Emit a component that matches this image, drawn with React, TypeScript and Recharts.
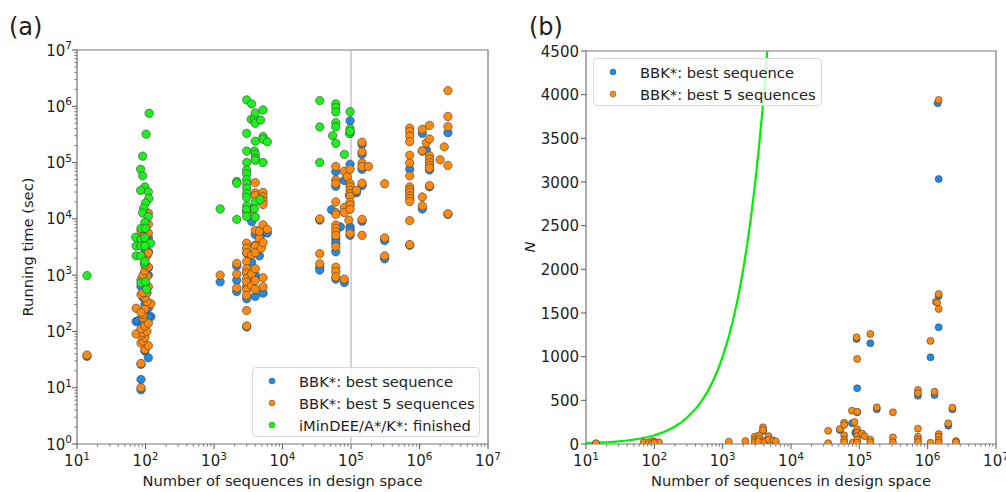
import React from 'react';
import { ScatterChart, Scatter, XAxis, YAxis, ReferenceLine, ReferenceArea, Legend } from 'recharts';

const FONT = '"DejaVu Sans", sans-serif';
const BLUE = '#1f8ae8';
const ORANGE = '#ff8a0d';
const GREEN = '#1ef01e';
const GREEN_LINE = '#00ee00';
const EDGE = '#3c3c3c';
const SPINE = '#777777';
const TEXT = '#1e1e1e';

// ---- ticks ----
const xMajorTicks = [10, 100, 1000, 10000, 100000, 1000000, 10000000];
const xExponents = ['1', '2', '3', '4', '5', '6', '7'];
const yMajorTicksA = [1, 10, 100, 1000, 10000, 100000, 1000000, 10000000];
const yExponentsA = ['0', '1', '2', '3', '4', '5', '6', '7'];
const yTicksB = [0, 500, 1000, 1500, 2000, 2500, 3000, 3500, 4000, 4500];
const minorMultipliers = [2, 3, 4, 5, 6, 7, 8, 9];

const withMinors = (majors: number[]) => {
  const out: number[] = [];
  majors.forEach((m, i) => {
    out.push(m);
    if (i < majors.length - 1) minorMultipliers.forEach((k) => out.push(m * k));
  });
  return out;
};
const xTicks = withMinors(xMajorTicks);
const yTicksA = withMinors(yMajorTicksA);

// ---- panel (a): running time (sec) vs number of sequences ----
const bestSeqRuntime: [number, number][] = [
  [14, 36],
  [86, 9.2], [86, 14], [86, 26], [110, 34], [98, 45], [86, 100], [73, 150], [78, 155], [92, 145],
  [120, 182], [100, 230], [110, 260], [98, 300], [86, 630], [110, 1000], [110, 1350], [110, 2600],
  [110, 4600], [98, 3000], [110, 180], [104, 480], [92, 400],
  [1230, 760], [2150, 1450], [2150, 810], [2150, 510], [3000, 2450], [3000, 1100], [3000, 620],
  [3000, 380], [3000, 120], [3000, 13500], [3550, 9000], [3550, 15000], [3550, 1700], [3550, 700],
  [4000, 1000], [4000, 420], [4000, 3400], [4000, 5300], [4600, 2200], [5200, 6800], [5200, 5600],
  [5200, 480], [6000, 5600],
  [35000, 9500], [35000, 1400], [35000, 1230], [52000, 14500], [60000, 69000], [60000, 38000],
  [60000, 4400], [60000, 2600], [60000, 850], [60000, 3700], [70000, 7200], [80000, 48000],
  [80000, 740], [95000, 26000], [97000, 93000], [97000, 550000], [97000, 330000], [97000, 7200],
  [97000, 6300], [97000, 5100], [120000, 29000], [145000, 210000], [145000, 140000], [145000, 76000],
  [145000, 39000], [145000, 9100], [310000, 4100], [310000, 1950],
  [720000, 76000], [720000, 3400], [1100000, 330000], [1100000, 160000], [1100000, 15000],
  [1260000, 166000], [1400000, 74000], [1400000, 37000], [2600000, 340000], [2600000, 12000],
];

const best5Runtime: [number, number][] = [
  [14, 38],
  [86, 10], [86, 27], [98, 48], [110, 56], [86, 62], [92, 68], [98, 78], [86, 85], [73, 90], [92, 95],
  [105, 100], [86, 112], [98, 125], [110, 140], [92, 175], [92, 200], [73, 258], [110, 305], [120, 310],
  [98, 250], [86, 215], [105, 340], [98, 400], [86, 450], [105, 490], [92, 490], [110, 620], [98, 720],
  [86, 830], [105, 950], [92, 1000], [98, 1200], [110, 1400], [105, 2200], [110, 2500], [98, 1500],
  [110, 5600], [86, 6100], [98, 7000], [110, 8000], [92, 4800], [110, 12700],
  [1230, 1000], [2150, 1620], [2150, 1040], [2150, 590], [3000, 1750], [3000, 1300], [3000, 1080],
  [3000, 880], [3000, 750], [3000, 550], [3000, 440], [3000, 235], [3000, 125], [3000, 3700],
  [3000, 3000], [3000, 2500], [3550, 2300], [3550, 13500], [3550, 1050], [3550, 650], [4000, 44000],
  [4000, 29000], [4000, 26000], [4000, 6300], [4000, 3300], [4000, 2500], [4000, 1300], [4000, 800],
  [4000, 560], [4600, 4500], [4600, 6000], [4900, 3000], [5200, 29500], [5200, 24500], [5200, 21000],
  [5200, 18000], [5200, 7800], [5200, 3800], [5200, 620], [5200, 900], [6000, 6500], [3000, 13500],
  [35000, 10000], [35000, 2400], [35000, 1600], [60000, 85000], [60000, 49000], [60000, 43000],
  [60000, 20000], [60000, 13000], [60000, 12000], [60000, 7800], [60000, 6800], [60000, 5900],
  [60000, 5100], [60000, 3200], [60000, 1380], [60000, 1150], [60000, 930], [80000, 70000],
  [80000, 16000], [80000, 13000], [80000, 850], [88000, 56000], [97000, 76000], [97000, 42000],
  [97000, 37000], [97000, 32000], [97000, 28000], [97000, 25000], [97000, 19500], [97000, 17500],
  [97000, 14800], [93000, 9500], [97000, 5500], [120000, 32000], [145000, 230000], [145000, 155000],
  [145000, 98000], [145000, 85000], [145000, 43000], [145000, 9800], [145000, 5100], [180000, 85000],
  [310000, 42000], [310000, 4600], [310000, 2200],
  [720000, 410000], [720000, 355000], [720000, 295000], [720000, 235000], [720000, 135000],
  [720000, 98000], [720000, 58000], [720000, 37000], [720000, 33000], [720000, 29500], [720000, 25700],
  [720000, 23000], [720000, 20400], [720000, 9300], [720000, 3500], [1100000, 390000],
  [1100000, 162000], [1100000, 24500], [1100000, 17000], [1260000, 224000], [1400000, 457000],
  [1400000, 263000], [1400000, 132000], [1400000, 115000], [1400000, 100000], [1400000, 89000],
  [1400000, 80000], [1400000, 39000], [2000000, 112000], [2300000, 190000], [2600000, 1900000],
  [2600000, 660000], [2600000, 436000], [2600000, 89000], [2600000, 12300],
];

const finishedRuntime: [number, number][] = [
  [14, 980],
  [113, 750000], [102, 320000], [91, 130000], [85, 76000], [91, 58000], [98, 37000], [85, 32000],
  [110, 30000], [112, 23000], [100, 19000], [94, 15500], [91, 12700], [110, 11000], [98, 8600],
  [86, 6800], [100, 6800], [72, 4700], [86, 4300], [98, 4600], [119, 3700], [73, 3300], [86, 3300],
  [98, 3300], [73, 2200], [86, 2200], [96, 1600], [98, 1750], [86, 730], [100, 760], [104, 560],
  [1230, 15000], [2150, 46000], [2150, 43000], [2150, 9800],
  [3000, 1300000], [3000, 330000], [3000, 160000], [3000, 100000], [3000, 74000], [3000, 63000],
  [3000, 50000], [3000, 42000], [3000, 35000], [3000, 28000], [3000, 24000], [3000, 17000],
  [3000, 14500], [3000, 11000],
  [3550, 1100000], [3500, 590000], [3900, 590000], [4000, 760000], [4000, 500000], [5200, 860000],
  [4800, 570000], [5200, 290000], [5200, 260000], [4000, 240000], [6000, 235000], [3900, 160000],
  [4000, 140000], [4000, 120000], [4000, 110000], [5200, 100000], [4000, 20000], [4700, 22000],
  [3900, 15000], [4000, 10700],
  [35000, 1260000], [35000, 430000], [35000, 100000], [60000, 1100000], [60000, 950000],
  [60000, 790000], [60000, 510000], [60000, 430000], [54000, 300000], [60000, 220000],
  [80000, 140000], [97000, 800000], [97000, 400000], [95000, 330000], [97000, 360000],
];

// ---- panel (b): N vs number of sequences ----
const bestSeqN: [number, number][] = [
  [14, 7], [86, 15], [98, 20], [3900, 150], [52000, 160], [78000, 237], [87000, 130],
  [93000, 638], [93000, 363], [91000, 1203], [145000, 1153], [180000, 397], [720000, 553],
  [1100000, 993], [1260000, 561], [1400000, 3902], [1450000, 3035], [1450000, 1695],
  [1450000, 1336], [2000000, 210], [2300000, 397],
];

const best5N: [number, number][] = [
  [14, 8],
  [70, 19], [83, 19], [95, 34], [105, 19], [117, 19], [92, 8], [100, 12],
  [1230, 27], [2150, 34],
  [2950, 84], [2950, 46], [2950, 19], [3400, 100], [3400, 60], [3900, 191], [3900, 160],
  [4000, 40], [4000, 20], [4700, 90], [4700, 50], [5500, 40], [6000, 30], [3300, 30],
  [35000, 152], [35000, 10], [52000, 172], [60000, 244], [60000, 218], [60000, 100], [60000, 50],
  [60000, 20], [78000, 382], [80000, 15], [91000, 1222], [93000, 974], [93000, 370], [85000, 252],
  [93000, 170], [93000, 130], [93000, 90], [93000, 50], [93000, 15], [110000, 120], [120000, 90],
  [145000, 1260], [145000, 50], [145000, 20], [180000, 420], [310000, 363], [310000, 77],
  [310000, 19],
  [720000, 619], [720000, 581], [720000, 176], [720000, 84], [720000, 51], [720000, 23],
  [1100000, 1180], [1100000, 15], [1260000, 599], [1450000, 3940], [1320000, 1630],
  [1380000, 1618], [1450000, 1718], [1450000, 1546], [1450000, 115], [1450000, 84],
  [1450000, 46], [1450000, 19], [2000000, 237], [2300000, 416], [2600000, 34], [2600000, 19],
];

// bound curve N = number of sequences
const boundCurve: [number, number][] = [
  [10, 10], [12, 12], [15, 15], [20, 20], [25, 25], [30, 30], [40, 40], [50, 50], [60, 60],
  [80, 80], [100, 100], [130, 130], [160, 160], [200, 200], [250, 250], [300, 300], [400, 400],
  [500, 500], [600, 600], [700, 700], [850, 850], [1000, 1000], [1200, 1200], [1400, 1400],
  [1600, 1600], [1800, 1800], [2000, 2000], [2300, 2300], [2600, 2600], [3000, 3000],
  [3400, 3400], [3800, 3800], [4200, 4200], [4500, 4500],
];

const toPts = (arr: [number, number][]) => arr.map(([x, y]) => ({ x, y }));

const legendA = [
  { label: 'BBK*: best sequence', color: BLUE },
  { label: 'BBK*: best 5 sequences', color: ORANGE },
  { label: 'iMinDEE/A*/K*: finished', color: GREEN },
];
const legendB = [
  { label: 'BBK*: best sequence', color: BLUE },
  { label: 'BBK*: best 5 sequences', color: ORANGE },
];

const xLabel = 'Number of sequences in design space';

// ---- helpers ----
const dot = (fill: string, r: number) => (p: any) => (
  <circle cx={p.cx} cy={p.cy} r={r} fill={fill} stroke={EDGE} strokeWidth={0.6} />
);
const noDot = () => <g />;

function LogXTick(props: any) {
  const { x, y, payload } = props;
  const v = payload.value;
  const idx = xMajorTicks.indexOf(v);
  const major = idx >= 0;
  return (
    <g>
      <line x1={x} x2={x} y1={y} y2={y + (major ? 5 : 2.8)} stroke="#555" strokeWidth={major ? 1 : 0.7} />
      {major && (
        <text x={x} y={y + 22} textAnchor="middle" fontSize={15} fontFamily={FONT} fill={TEXT}>
          <tspan>10</tspan>
          <tspan dy={-6.5} fontSize={10.5}>{xExponents[idx]}</tspan>
        </text>
      )}
    </g>
  );
}

function LogYTick(props: any) {
  const { x, y, payload } = props;
  const v = payload.value;
  const idx = yMajorTicksA.indexOf(v);
  const major = idx >= 0;
  return (
    <g>
      <line x1={x} x2={x - (major ? 5 : 2.8)} y1={y} y2={y} stroke="#555" strokeWidth={major ? 1 : 0.7} />
      {major && (
        <text x={x - 5} y={y + 5.5} textAnchor="end" fontSize={15} fontFamily={FONT} fill={TEXT}>
          <tspan>10</tspan>
          <tspan dy={-6.5} fontSize={10.5}>{yExponentsA[idx]}</tspan>
        </text>
      )}
    </g>
  );
}

function LinYTick(props: any) {
  const { x, y, payload } = props;
  return (
    <g>
      <line x1={x} x2={x - 5} y1={y} y2={y} stroke="#555" strokeWidth={1} />
      <text x={x - 7} y={y + 5.5} textAnchor="end" fontSize={15} fontFamily={FONT} fill={TEXT}>
        {payload.value}
      </text>
    </g>
  );
}

function LegendBox({ items, width, height }: { items: { label: string; color: string }[]; width: number; height: number }) {
  return (
    <div
      style={{
        width,
        height,
        boxSizing: 'border-box',
        border: '1px solid #d9d9d9',
        borderRadius: 4,
        background: 'rgba(255,255,255,0.8)',
        fontFamily: FONT,
        fontSize: 14.7,
        color: TEXT,
        paddingTop: 2,
      }}
    >
      {items.map((it) => (
        <div key={it.label} style={{ display: 'flex', alignItems: 'center', height: 22, whiteSpace: 'nowrap' }}>
          <svg width={46} height={22} style={{ flex: 'none' }}>
            <circle cx={19} cy={11} r={3} fill={it.color} stroke={EDGE} strokeWidth={0.4} />
          </svg>
          <span>{it.label}</span>
        </div>
      ))}
    </div>
  );
}

export default function App() {
  return (
    <div style={{ position: 'absolute', left: 0, top: 0, width: 1006, height: 492, background: '#fff', overflow: 'hidden' }}>
      {/* Panel (a) */}
      <div style={{ position: 'absolute', left: 0, top: 0 }}>
        <ScatterChart width={500} height={492} margin={{ top: 50, right: 12, bottom: 0, left: 17 }}>
          <XAxis
            type="number"
            dataKey="x"
            scale="log"
            domain={[10, 10000000]}
            allowDataOverflow
            ticks={xTicks}
            interval={0}
            tick={(p: any) => <LogXTick {...p} />}
            tickLine={false}
            tickSize={0}
            tickMargin={0}
            axisLine={false}
            height={48}
          />
          <YAxis
            type="number"
            dataKey="y"
            scale="log"
            domain={[1, 10000000]}
            allowDataOverflow
            ticks={yTicksA}
            interval={0}
            tick={(p: any) => <LogYTick {...p} />}
            tickLine={false}
            tickSize={0}
            tickMargin={0}
            axisLine={false}
            width={60}
          />
          <ReferenceLine x={100000} stroke="#bdbdbd" strokeWidth={1.3} />
          <Scatter name="BBK*: best sequence" data={toPts(bestSeqRuntime)} shape={dot(BLUE, 4.2)} isAnimationActive={false} />
          <Scatter name="BBK*: best 5 sequences" data={toPts(best5Runtime)} shape={dot(ORANGE, 4.2)} isAnimationActive={false} />
          <Scatter name="iMinDEE/A*/K*: finished" data={toPts(finishedRuntime)} shape={dot(GREEN, 4.2)} isAnimationActive={false} />
          <ReferenceArea x1={10} x2={10000000} y1={1} y2={10000000} fill="none" stroke={SPINE} strokeWidth={1.2} ifOverflow="visible" />
          <Legend
            layout="vertical"
            align="center"
            verticalAlign="middle"
            wrapperStyle={{ left: 252, top: 367, width: 228, height: 70 }}
            content={() => <LegendBox items={legendA} width={228} height={70} />}
          />
        </ScatterChart>
      </div>

      {/* Panel (b) */}
      <div style={{ position: 'absolute', left: 500, top: 0 }}>
        <ScatterChart width={506} height={492} margin={{ top: 51, right: 10, bottom: 0, left: 26 }}>
          <XAxis
            type="number"
            dataKey="x"
            scale="log"
            domain={[10, 10000000]}
            allowDataOverflow
            ticks={xTicks}
            interval={0}
            tick={(p: any) => <LogXTick {...p} />}
            tickLine={false}
            tickSize={0}
            tickMargin={0}
            axisLine={false}
            height={48}
          />
          <YAxis
            type="number"
            dataKey="y"
            domain={[0, 4500]}
            allowDataOverflow
            ticks={yTicksB}
            interval={0}
            tick={(p: any) => <LinYTick {...p} />}
            tickLine={false}
            tickSize={0}
            tickMargin={0}
            axisLine={false}
            width={60}
          />
          <Scatter
            name="bound"
            data={toPts(boundCurve)}
            line={{ stroke: GREEN_LINE, strokeWidth: 2.2 }}
            lineType="joint"
            shape={noDot}
            legendType="none"
            isAnimationActive={false}
          />
          <Scatter name="BBK*: best sequence" data={toPts(bestSeqN)} shape={dot(BLUE, 3.5)} isAnimationActive={false} />
          <Scatter name="BBK*: best 5 sequences" data={toPts(best5N)} shape={dot(ORANGE, 3.5)} isAnimationActive={false} />
          <ReferenceArea x1={10} x2={10000000} y1={0} y2={4500} fill="none" stroke={SPINE} strokeWidth={1.2} ifOverflow="visible" />
          <Legend
            layout="vertical"
            align="center"
            verticalAlign="middle"
            wrapperStyle={{ left: 93, top: 58, width: 229, height: 48 }}
            content={() => <LegendBox items={legendB} width={229} height={48} />}
          />
        </ScatterChart>
      </div>

      {/* Titles and axis labels */}
      <svg width={1006} height={492} style={{ position: 'absolute', left: 0, top: 0, pointerEvents: 'none' }}>
        <text x={9} y={35} fontSize={24} fontFamily={FONT} fill={TEXT}>(a)</text>
        <text x={529} y={35} fontSize={24} fontFamily={FONT} fill={TEXT}>(b)</text>
        <text x={282.5} y={486} textAnchor="middle" fontSize={14.7} fontFamily={FONT} fill={TEXT}>{xLabel}</text>
        <text x={791} y={486} textAnchor="middle" fontSize={14.7} fontFamily={FONT} fill={TEXT}>{xLabel}</text>
        <text transform="translate(33,247) rotate(-90)" textAnchor="middle" fontSize={14.7} fontFamily={FONT} fill={TEXT}>Running time (sec)</text>
        <text transform="translate(535,247) rotate(-90)" textAnchor="middle" fontSize={14.7} fontStyle="italic" fontFamily={FONT} fill={TEXT}>N</text>
      </svg>
    </div>
  );
}
